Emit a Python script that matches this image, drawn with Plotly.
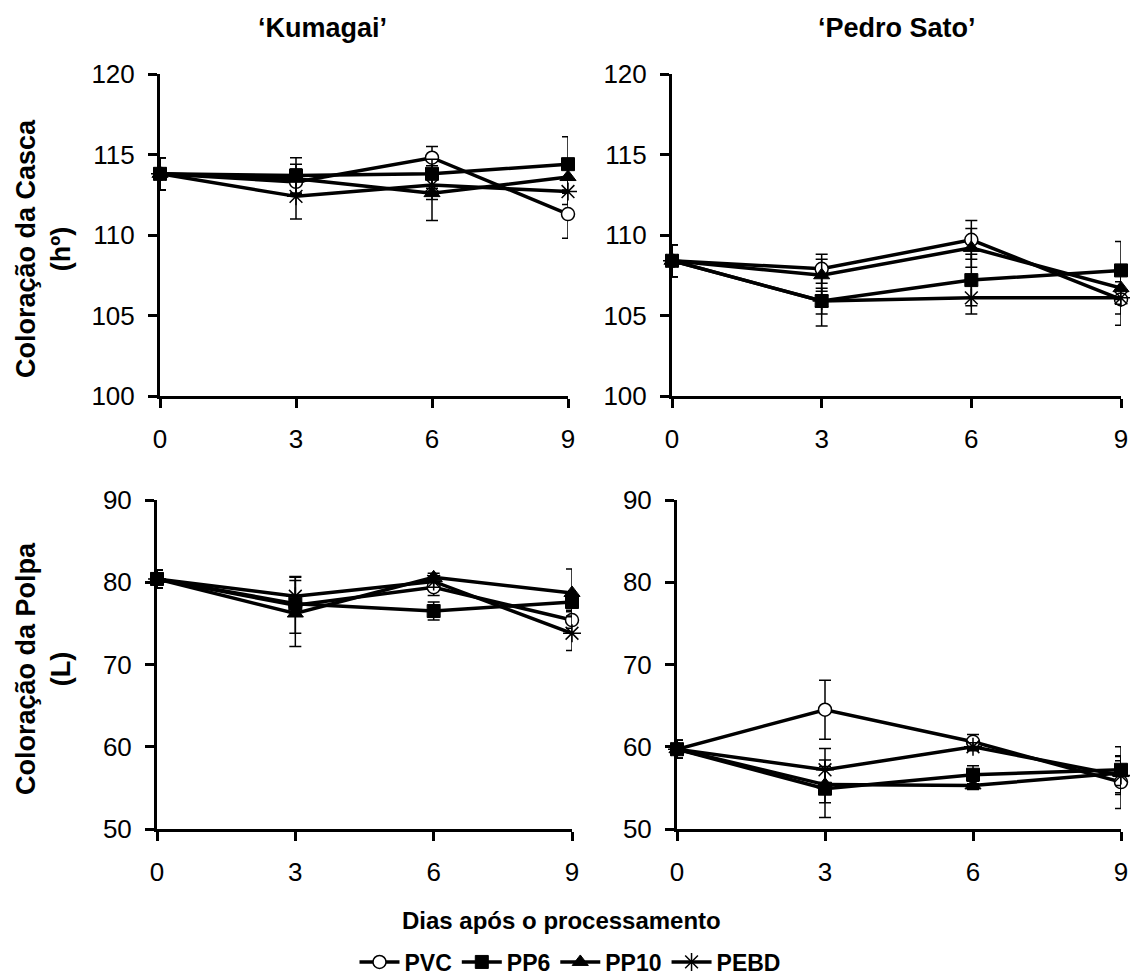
import plotly.graph_objects as go

# ---------------- data ----------------
days = [0, 3, 6, 9]
series = ["PVC", "PP6", "PP10", "PEBD"]

# 'Kumagai' - Coloração da Casca (hº)
kum_casca_pvc = [113.8, 113.3, 114.8, 111.3]
kum_casca_pp6 = [113.8, 113.7, 113.8, 114.4]
kum_casca_pp10 = [113.8, 113.5, 112.6, 113.6]
kum_casca_pebd = [113.8, 112.4, 113.1, 112.7]
kum_casca_pvc_err = [1.0, 0.8, 0.7, 1.5]
kum_casca_pp6_err = [1.0, 1.1, 0.9, 1.7]
kum_casca_pp10_err = [1.0, 0.9, 1.7, 1.0]
kum_casca_pebd_err = [1.0, 1.4, 0.9, 0.8]

# 'Pedro Sato' - Coloração da Casca (hº)
ps_casca_pvc = [108.4, 107.9, 109.7, 106.0]
ps_casca_pp6 = [108.4, 105.9, 107.2, 107.8]
ps_casca_pp10 = [108.4, 107.5, 109.2, 106.7]
ps_casca_pebd = [108.4, 105.9, 106.1, 106.1]
ps_casca_pvc_err = [1.0, 0.9, 1.2, 1.6]
ps_casca_pp6_err = [1.0, 0.8, 1.6, 1.8]
ps_casca_pp10_err = [1.0, 1.0, 1.2, 1.0]
ps_casca_pebd_err = [1.0, 1.55, 1.0, 1.0]

# 'Kumagai' - Coloração da Polpa (L)
kum_polpa_pvc = [80.4, 77.2, 79.4, 75.4]
kum_polpa_pp6 = [80.4, 77.4, 76.5, 77.6]
kum_polpa_pp10 = [80.4, 76.2, 80.6, 78.7]
kum_polpa_pebd = [80.4, 78.3, 80.1, 73.8]
kum_polpa_pvc_err = [1.1, 3.4, 1.0, 1.0]
kum_polpa_pp6_err = [1.1, 1.0, 1.1, 1.0]
kum_polpa_pp10_err = [1.1, 4.0, 0.5, 2.9]
kum_polpa_pebd_err = [1.1, 2.4, 0.7, 2.1]

# 'Pedro Sato' - Coloração da Polpa (L)
ps_polpa_pvc = [59.7, 64.5, 60.6, 55.7]
ps_polpa_pp6 = [59.7, 54.9, 56.6, 57.2]
ps_polpa_pp10 = [59.7, 55.4, 55.3, 56.8]
ps_polpa_pebd = [59.7, 57.2, 60.0, 56.5]
ps_polpa_pvc_err = [1.1, 3.6, 0.9, 3.2]
ps_polpa_pp6_err = [1.1, 3.5, 1.1, 2.8]
ps_polpa_pp10_err = [1.1, 2.2, 0.5, 1.5]
ps_polpa_pebd_err = [1.1, 2.6, 0.5, 2.3]

x_ticks = [0, 3, 6, 9]
casca_ticks = [100, 105, 110, 115, 120]
polpa_ticks = [50, 60, 70, 80, 90]

col_titles = ["\u2018Kumagai\u2019", "\u2018Pedro Sato\u2019"]
y_titles = ["Coloração da Casca<br>(hº)", "Coloração da Polpa<br>(L)"]
x_title = "Dias após o processamento"

# ---------------- styling ----------------
FONT = "Liberation Sans, Arial, sans-serif"
W, H = 1130, 980

marker_styles = {
    "PVC": dict(symbol="circle", size=13, color="white", line=dict(color="black", width=1.5)),
    "PP6": dict(symbol="square", size=13, color="black", line=dict(color="black", width=1)),
    "PP10": dict(symbol="triangle-up", size=14, color="black", line=dict(color="black", width=1)),
    "PEBD": dict(symbol="asterisk-open", size=15, color="black", line=dict(color="black", width=1.5)),
}

panels = [
    dict(ax="", vals=[kum_casca_pvc, kum_casca_pp6, kum_casca_pp10, kum_casca_pebd],
         errs=[kum_casca_pvc_err, kum_casca_pp6_err, kum_casca_pp10_err, kum_casca_pebd_err],
         xdom=[160, 568], ydom=[74, 396], yr=[100, 120], yt=casca_ticks),
    dict(ax="2", vals=[ps_casca_pvc, ps_casca_pp6, ps_casca_pp10, ps_casca_pebd],
         errs=[ps_casca_pvc_err, ps_casca_pp6_err, ps_casca_pp10_err, ps_casca_pebd_err],
         xdom=[672, 1121], ydom=[74, 396], yr=[100, 120], yt=casca_ticks),
    dict(ax="3", vals=[kum_polpa_pvc, kum_polpa_pp6, kum_polpa_pp10, kum_polpa_pebd],
         errs=[kum_polpa_pvc_err, kum_polpa_pp6_err, kum_polpa_pp10_err, kum_polpa_pebd_err],
         xdom=[157, 572], ydom=[500, 829], yr=[50, 90], yt=polpa_ticks),
    dict(ax="4", vals=[ps_polpa_pvc, ps_polpa_pp6, ps_polpa_pp10, ps_polpa_pebd],
         errs=[ps_polpa_pvc_err, ps_polpa_pp6_err, ps_polpa_pp10_err, ps_polpa_pebd_err],
         xdom=[677, 1121], ydom=[500, 829], yr=[50, 90], yt=polpa_ticks),
]

fig = go.Figure()
layout_axes = {}
for pi, p in enumerate(panels):
    a = p["ax"]
    for si, name in enumerate(series):
        fig.add_trace(go.Scatter(
            x=days, y=p["vals"][si], name=name, mode="lines+markers",
            xaxis="x" + a, yaxis="y" + a,
            line=dict(color="black", width=3.5),
            marker=marker_styles[name],
            error_y=dict(type="data", array=p["errs"][si], visible=True,
                         color="black", thickness=1.5, width=6),
            cliponaxis=False,
            showlegend=(pi == 0),
            legendgroup=name,
        ))
    xd = [p["xdom"][0] / W, p["xdom"][1] / W]
    yd = [1 - p["ydom"][1] / H, 1 - p["ydom"][0] / H]
    common = dict(showline=True, linecolor="black", linewidth=3, ticks="outside",
                  tickcolor="black", tickwidth=3, ticklen=9, showgrid=False, zeroline=False,
                  tickfont=dict(family=FONT, size=26, color="black"))
    layout_axes["xaxis" + a] = dict(domain=xd, range=[0, 9], tickvals=x_ticks,
                                    anchor="y" + a, ticklabelstandoff=9, **common)
    layout_axes["yaxis" + a] = dict(domain=yd, range=p["yr"], tickvals=p["yt"],
                                    anchor="x" + a, ticklabelstandoff=8, **common)

annotations = [
    dict(text="<b>%s</b>" % col_titles[0], x=322 / W, y=1 - 28 / H, xref="paper", yref="paper",
         showarrow=False, font=dict(family=FONT, size=27, color="black"), xanchor="center", yanchor="middle"),
    dict(text="<b>%s</b>" % col_titles[1], x=897 / W, y=1 - 28 / H, xref="paper", yref="paper",
         showarrow=False, font=dict(family=FONT, size=27, color="black"), xanchor="center", yanchor="middle"),
    dict(text="<b>%s</b>" % y_titles[0], x=43 / W, y=1 - 249 / H, xref="paper", yref="paper",
         showarrow=False, textangle=-90, font=dict(family=FONT, size=27, color="black"),
         xanchor="center", yanchor="middle"),
    dict(text="<b>%s</b>" % y_titles[1], x=43 / W, y=1 - 669 / H, xref="paper", yref="paper",
         showarrow=False, textangle=-90, font=dict(family=FONT, size=27, color="black"),
         xanchor="center", yanchor="middle"),
    dict(text="<b>%s</b>" % x_title, x=561 / W, y=1 - 920 / H, xref="paper", yref="paper",
         showarrow=False, font=dict(family=FONT, size=24, color="black"), xanchor="center", yanchor="middle"),
]

fig.update_layout(
    width=W, height=H,
    margin=dict(l=0, r=0, t=0, b=0, autoexpand=False),
    paper_bgcolor="white", plot_bgcolor="white",
    font=dict(family=FONT, color="black"),
    annotations=annotations,
    legend=dict(orientation="h", x=570 / W, y=1 - 962 / H, xanchor="center", yanchor="middle",
                font=dict(family=FONT, size=23, color="black", weight="bold"),
                itemwidth=40, tracegroupgap=0, bgcolor="rgba(0,0,0,0)"),
    **layout_axes,
)

fig.write_html("out.html",
               config={"displayModeBar": False},
               post_script="document.body.style.margin='0';document.body.style.overflow='hidden';")
